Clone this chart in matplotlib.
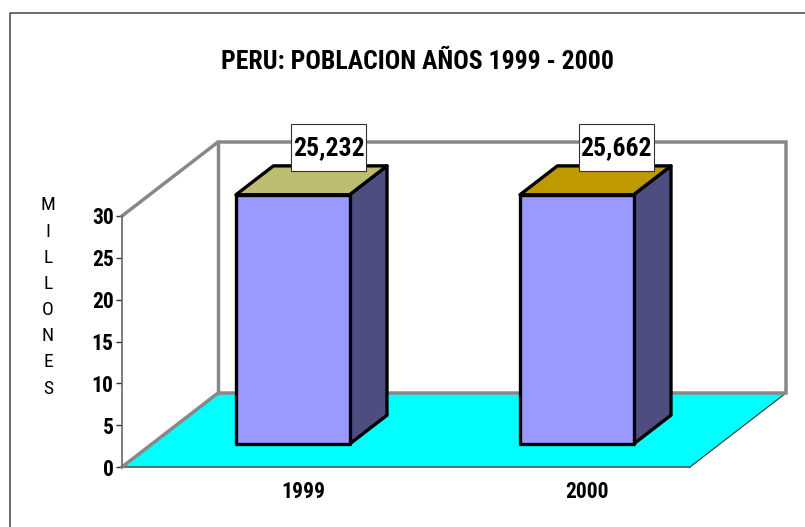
import matplotlib
matplotlib.use('Agg')
import matplotlib.pyplot as plt
from matplotlib.patches import Polygon, Rectangle
from matplotlib.transforms import IdentityTransform

plt.rcParams['font.family'] = ['Roboto Condensed', 'Asap SemiCondensed', 'Asap Condensed', 'Liberation Sans', 'DejaVu Sans']

W, H = 805, 527
title = 'PERU: POBLACION AÑOS 1999 - 2000'
categories = ['1999', '2000']
# drawn height of the bars as read against the axis, labels are what the chart prints
bar_heights = [29.8, 29.8]
bar_labels = ['25,232', '25,662']
top_colors = ['#BDBD72', '#BF9900']
y_ticks = [0, 5, 10, 15, 20, 25, 30]
y_title = 'MILLONES'

# 3d look: depth d=1 moves a point this far in data units
bar_width = 0.4
bar_shift = -1 / 284
base_depth = 0.31
top_depth = 0.70
depth_x = 96 / 284
depth_y = 74 / (251 / 30)
label_dx = [-2.5, 1]


def p(x, y, d=0):
    return (x + d * depth_x, y + d * depth_y)


def face(ax, pts, color, edge='black', lw=2.4, z=3):
    ax.add_patch(Polygon(pts, closed=True, facecolor=color, edgecolor=edge, linewidth=lw,
                         joinstyle='round', clip_on=False, zorder=z))


fig = plt.figure(figsize=(W / 100, H / 100), dpi=100)
ax = fig.add_axes([122 / W, 1 - 467 / H, 568 / W, 251 / H])
ax.set_xlim(0, 2)
ax.set_ylim(0, 30)
ax.patch.set_alpha(0)

# outer frame
fig.add_artist(plt.Line2D([10 / W, 10 / W, 1], [0, 1 - 13 / H, 1 - 13 / H], color='#444444', lw=1.1))

# floor and walls
face(ax, [p(0, 0), p(2, 0), p(2, 0, 1), p(0, 0, 1)], '#00FFFF', edge='none', lw=0, z=1)
ax.plot(*zip(p(2, 0), p(2, 0, 1)), color='#333333', lw=0.8, clip_on=False, zorder=1)
ax.plot(*zip(p(0, 0), p(2, 0)), color='#555555', lw=1.2, clip_on=False, zorder=1.5)
wall = [p(0, 0), p(0, 0, 1), p(2, 0, 1), p(2, 30, 1), p(0, 30, 1), p(0, 30)]
ax.plot(*zip(*wall), color='#888888', lw=2.5, clip_on=False, zorder=2, solid_joinstyle='miter')
ax.plot(*zip(p(0, 0, 1), p(0, 30, 1)), color='#888888', lw=2.5, clip_on=False, zorder=2)

# bars
for i, h in enumerate(bar_heights):
    x0 = i + 0.5 + bar_shift - bar_width / 2
    x1 = i + 0.5 + bar_shift + bar_width / 2
    d0, d1 = base_depth, top_depth
    face(ax, [p(x1, 0, d0), p(x1, 0, d1), p(x1, h, d1), p(x1, h, d0)], '#4D4D80')
    face(ax, [p(x0, h, d0), p(x1, h, d0), p(x1, h, d1), p(x0, h, d1)], top_colors[i])
    face(ax, [p(x0, 0, d0), p(x1, 0, d0), p(x1, h, d0), p(x0, h, d0)], '#9999FF')
    # value label box sits above the back edge of the bar top, sized in pixels
    px, py = ax.transData.transform(p(i + 0.5, h, d1))
    px += label_dx[i]
    py += 18
    ax.add_patch(Rectangle((px - 37.5, py - 23.5), 75, 47, transform=IdentityTransform(),
                           facecolor='white', edgecolor='#333333', linewidth=0.8, clip_on=False, zorder=5))
    ax.text(px, py, bar_labels[i], transform=IdentityTransform(), ha='center', va='center',
            fontsize=18.5, fontweight='bold', zorder=6, clip_on=False)

# axes
for s in ['top', 'right', 'bottom']:
    ax.spines[s].set_visible(False)
ax.spines['left'].set_color('#666666')
ax.spines['left'].set_linewidth(1.2)
ax.set_yticks(y_ticks)
ax.set_yticklabels([str(t) for t in y_ticks], fontsize=15.5, fontweight='bold')
ax.tick_params(axis='y', length=4, width=1, color='#333333', pad=2)
ax.set_xticks([0.5 + 39 / 284, 1.5 + 39 / 284])
ax.set_xticklabels(categories, fontsize=15.5, fontweight='bold')
ax.tick_params(axis='x', length=0, pad=10)

fig.text(417 / W, 1 - 62 / H, title, ha='center', va='center', fontsize=18.5, fontweight='bold')
fig.text(48 / W, 1 - 297 / H, '\n'.join(y_title), ha='center', va='center', fontsize=14, linespacing=1.585)

fig.savefig('out.png', dpi=100)
